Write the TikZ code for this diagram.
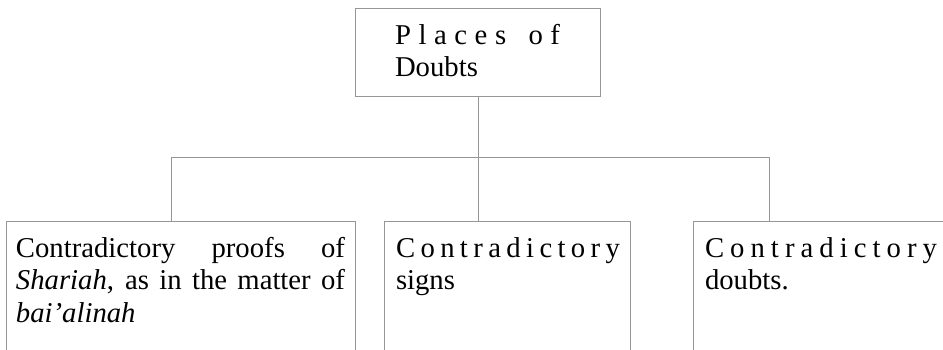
\documentclass[tikz,border=0pt]{standalone}
\usepackage{fontspec}
\setmainfont{Liberation Serif}
\definecolor{rulegray}{RGB}{150,150,150}
\tikzset{
  frame/.style={draw=rulegray, line width=1pt, rectangle, inner sep=0pt, minimum width=#1},
  link/.style={draw=rulegray, line width=1pt},
  txt/.style={anchor=base west, inner sep=0pt, outer sep=0pt},
}
% spread the letters of a word over a fixed width
\newcommand{\spreadword}[2]{\makebox[#1][s]{#2}}
\begin{document}
\begin{tikzpicture}[x=1pt, y=-1pt, font=\fontsize{28.7pt}{32.5pt}\selectfont]
  \useasboundingbox (0,0) rectangle (943,349);
  \clip (0,0) rectangle (943,349);

  % boxes (the lower ones run past the bottom edge)
  \node[frame=245pt, minimum height=88pt] (top) at (477.5,52) {};
  \node[frame=349pt, minimum height=160pt, anchor=north west] (left) at (6,221) {};
  \node[frame=246pt, minimum height=160pt, anchor=north west] (mid) at (384,221) {};
  \node[frame=300pt, minimum height=160pt, anchor=north west] (right) at (693,221) {};

  % tree connectors
  \coordinate (busL) at (171,157);
  \coordinate (busR) at (769,157);
  \coordinate (stem) at (478,96);
  \draw[link] (stem) -- (stem |- mid.north);
  \draw[link] (left.north -| busL) -- (busL) -- (busR) -- (right.north -| busR);

  % texts
  \node[txt] (t1) at (395,44) {\spreadword{165pt}{P\hfill l\hfill a\hfill c\hfill e\hfill s\hfill\kern0.25em\hfill o\hfill f}};
  \node[txt] (t2) at (395,76.5) {Doubts};

  \node[txt] (l1) at (16,257) {\makebox[329pt][s]{Contradictory proofs of}};
  \node[txt] (l2) at (16,289.5) {\makebox[329pt][s]{\textit{Shariah}, as in the matter of}};
  \node[txt] (l3) at (16,322) {\textit{bai’alinah}};

  \node[txt] (m1) at (396,257) {\spreadword{224pt}{C\hfill o\hfill n\hfill t\hfill r\hfill a\hfill d\hfill i\hfill c\hfill t\hfill o\hfill r\hfill y}};
  \node[txt] (m2) at (396,289.5) {signs};

  \node[txt] (r1) at (705,257) {\spreadword{232pt}{C\hfill o\hfill n\hfill t\hfill r\hfill a\hfill d\hfill i\hfill c\hfill t\hfill o\hfill r\hfill y}};
  \node[txt] (r2) at (705,289.5) {doubts.};
\end{tikzpicture}
\end{document}
